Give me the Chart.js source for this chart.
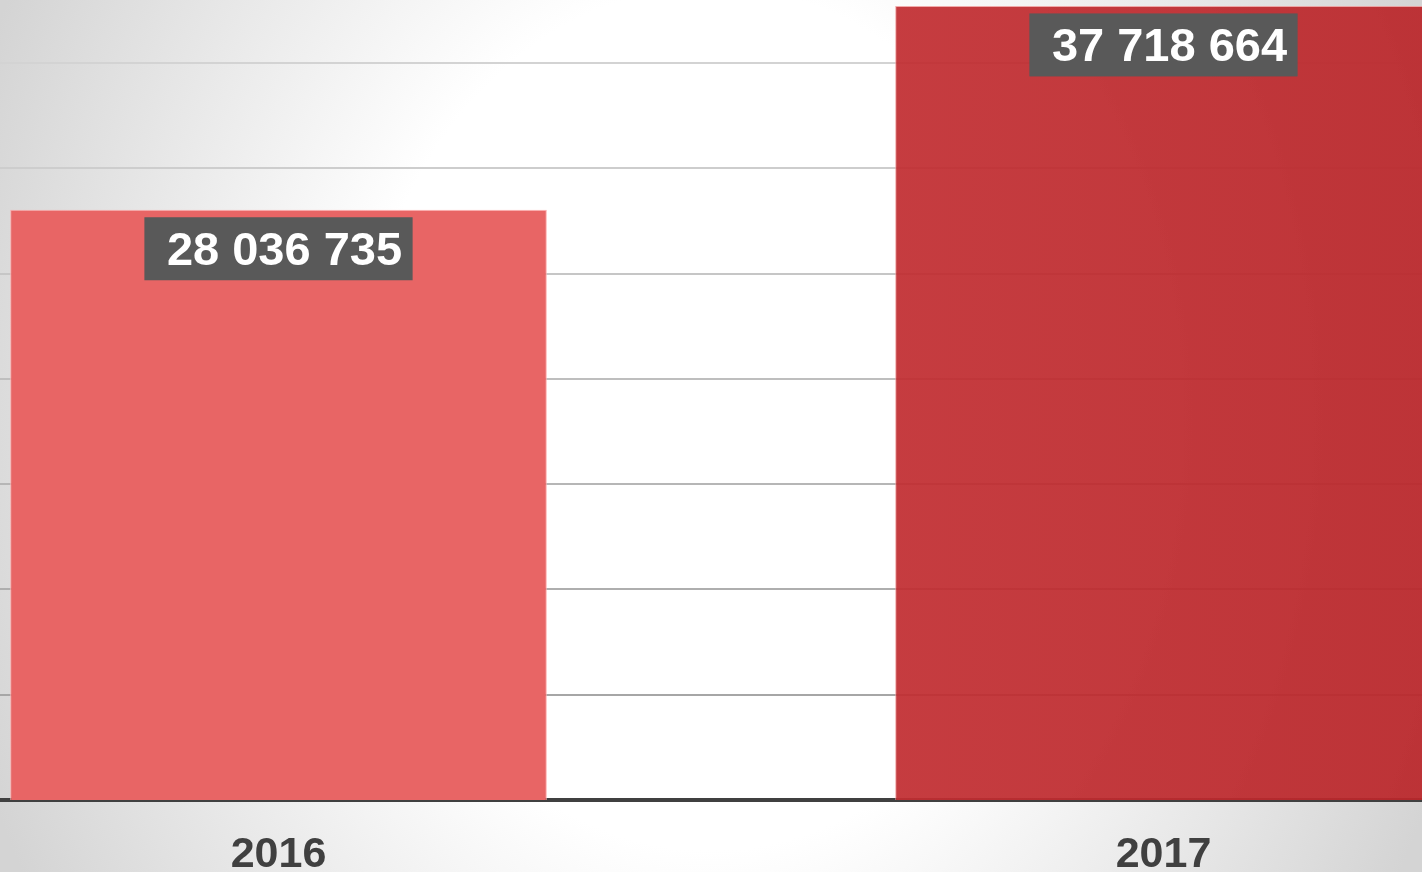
<!DOCTYPE html>
<html>
<head>
<meta charset="utf-8">
<script src="https://cdn.jsdelivr.net/npm/chart.js@4/dist/chart.umd.min.js"></script>
<style>
  html, body { margin: 0; padding: 0; width: 1422px; height: 872px; overflow: hidden; }
  body { background: radial-gradient(ellipse 55% 110% at 50% 48%, #ffffff 45%, #d4d4d4 100%); position: relative; }
  #c { position: absolute; left: -164px; top: 0; }
</style>
</head>
<body>
<canvas id="c" width="1770" height="872"></canvas>
<script>
const categories = ['2016', '2017'];
const values = [28036735, 37718664];
const valueLabels = ['28 036 735', '37 718 664'];
const yMax = 38000000;
const gridValues = [5000000, 10000000, 15000000, 20000000, 25000000, 30000000, 35000000];
// grid line colours, bottom to top
const gridColors = ['#a6a6a6', '#aeaeae', '#b6b6b6', '#bebebe', '#c6c6c6', '#cdcdcd', '#d3d3d3'];

const labelPlugin = {
  id: 'valueBoxes',
  afterDatasetsDraw(chart) {
    const ctx = chart.ctx;
    const meta = chart.getDatasetMeta(0);
    ctx.save();
    ctx.font = 'bold 47px "Liberation Sans", Arial, sans-serif';
    meta.data.forEach((bar, i) => {
      const text = valueLabels[i];
      const tw = ctx.measureText(text).width;
      const bw = tw + 33;
      const bh = 63;
      const x0 = bar.x - bw / 2;
      const y0 = bar.y + 7.5;
      ctx.fillStyle = '#595959';
      ctx.fillRect(x0, y0, bw, bh);
      ctx.fillStyle = '#ffffff';
      ctx.textAlign = 'center';
      ctx.textBaseline = 'middle';
      ctx.fillText(text, bar.x + 6, y0 + bh / 2 + 3);
    });
    ctx.restore();
  }
};

new Chart(document.getElementById('c'), {
  type: 'bar',
  data: {
    labels: categories,
    datasets: [{
      data: values,
      backgroundColor: (c) => {
        if (c.dataIndex === 0) return '#E86565';
        const area = c.chart.chartArea;
        if (!area || !isFinite(area.left)) return 'rgba(190,42,46,0.93)';
        const x0 = area.left + area.width * 0.6;
        const x1 = area.right;
        const g = c.chart.ctx.createLinearGradient(x0, 0, x1, 0);
        g.addColorStop(0, 'rgba(193,45,49,0.93)');
        g.addColorStop(1, 'rgba(184,36,40,0.93)');
        return g;
      },
      borderColor: ['rgba(255,170,170,0.9)', 'rgba(240,150,150,0.8)'],
      borderWidth: 1,
      borderSkipped: 'start',
      categoryPercentage: 1,
      barPercentage: 0.6064
    }]
  },
  options: {
    responsive: false,
    animation: false,
    devicePixelRatio: 1,
    layout: { padding: 0 },
    plugins: { legend: { display: false }, tooltip: { enabled: false } },
    scales: {
      x: {
        grid: { display: false, drawTicks: false },
        border: { display: true, color: '#404040', width: 4 },
        ticks: {
          color: '#404040',
          font: { family: '"Liberation Sans", Arial, sans-serif', size: 43, weight: 'bold' },
          padding: 29
        },
        afterFit: (s) => { s.height = 72; }
      },
      y: {
        min: 0,
        max: yMax,
        ticks: { display: false },
        afterBuildTicks: (s) => { s.ticks = gridValues.map(v => ({ value: v })); },
        afterFit: (s) => { s.width = 0; },
        grid: {
          display: true,
          drawTicks: false,
          lineWidth: 2,
          color: (c) => gridColors[c.index] || '#cccccc'
        },
        border: { display: false }
      }
    }
  },
  plugins: [labelPlugin]
});
</script>
</body>
</html>
